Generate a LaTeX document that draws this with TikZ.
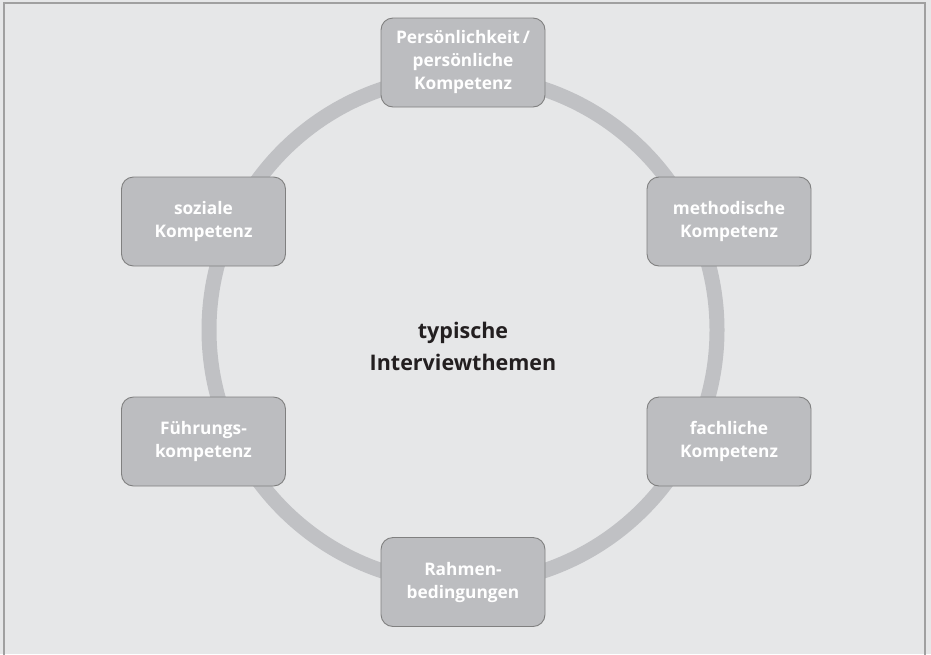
\documentclass[tikz,border=0pt]{standalone}
\usepackage{fontspec}
\setmainfont{Open Sans}
\definecolor{bg}{HTML}{E6E7E8}
\definecolor{frame}{HTML}{A0A0A0}
\definecolor{boxfill}{HTML}{BCBDC0}
\definecolor{boxline}{HTML}{808080}
\definecolor{ring}{HTML}{C0C1C4}
\definecolor{txt}{HTML}{231F20}
\tikzset{
  topic/.style={draw=boxline, line width=0.9pt, fill=boxfill, rounded corners=12pt,
    minimum width=164pt, minimum height=89pt, inner sep=0pt, align=center,
    text=white, font=\fontsize{17.3}{23}\selectfont\bfseries},
  ringline/.style={draw=ring, line width=15pt},
}
\begin{document}
\begin{tikzpicture}[x=1pt,y=-1pt]
\useasboundingbox (0,0) rectangle (931,654);
\fill[bg] (0,0) rectangle (931,654);
\draw[frame, line width=1.8pt] (4,3) rectangle (925,680);
\coordinate (c) at (463,330);
\draw[ringline] (c) circle (254);
\node[topic] (p) at (463,62.5) {Persönlichkeit\,/\\persönliche\\Kompetenz};
\node[topic] (m) at (729,221.5) {methodische\\Kompetenz};
\node[topic] (f) at (729,441.5) {fachliche\\Kompetenz};
\node[topic] (r) at (463,582) {Rahmen-\\bedingungen};
\node[topic] (fk) at (203.5,441.5) {Führungs-\\kompetenz};
\node[topic] (s) at (203.5,221.5) {soziale\\Kompetenz};
\node[align=center, text=txt, font=\fontsize{21.5}{32}\selectfont\bfseries] (t) at (463,346) {typische\\Interviewthemen};
\end{tikzpicture}
\end{document}
